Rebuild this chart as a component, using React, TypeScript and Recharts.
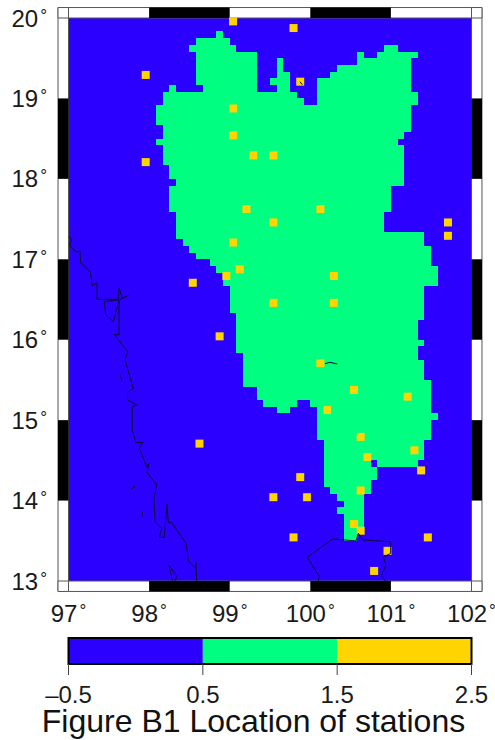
import React from 'react';
import { ScatterChart, Scatter, XAxis, YAxis, ZAxis, ReferenceArea } from 'recharts';

const BLUE = '#2b00ff';
const GREEN = '#00ff80';
const YELLOW = '#ffd400';
const FONT = '"Liberation Sans", Arial, sans-serif';

const lonTicks = [97, 98, 99, 100, 101, 102];
const latTicks = [13, 14, 15, 16, 17, 18, 19, 20];
const blackLonBands = [[98, 99], [100, 101]];
const blackLatBands = [[14, 15], [16, 17], [18, 19]];
const FRAME = 0.13;

const CELL = 1 / 12;
// land mask: [first row, last row, start col, end col, ...], rows count down from 20N, cols from 97E
const landRows: number[][] = [
  [2, 2, 22, 23],
  [3, 3, 19, 24],
  [4, 4, 18, 25, 47, 49],
  [5, 5, 19, 28, 43, 44, 46, 52],
  [6, 6, 19, 28, 31, 32, 43, 51],
  [7, 7, 19, 28, 31, 32, 40, 51],
  [8, 8, 19, 28, 31, 33, 39, 51],
  [9, 9, 19, 28, 30, 33, 37, 51],
  [10, 10, 15, 16, 20, 28, 31, 33, 37, 51],
  [11, 11, 14, 34, 37, 52],
  [12, 12, 14, 35, 37, 52],
  [13, 15, 13, 51],
  [16, 16, 14, 51],
  [17, 17, 14, 50],
  [18, 18, 13, 49],
  [19, 21, 14, 50],
  [22, 23, 15, 50],
  [24, 24, 16, 50],
  [25, 28, 15, 48],
  [29, 31, 16, 47],
  [32, 32, 16, 53],
  [33, 33, 17, 53],
  [34, 34, 18, 54],
  [35, 35, 19, 54],
  [36, 36, 21, 54],
  [37, 37, 22, 55],
  [38, 39, 23, 55],
  [40, 43, 24, 53],
  [44, 44, 25, 53],
  [45, 47, 25, 52],
  [48, 48, 25, 53],
  [49, 49, 25, 52],
  [50, 50, 26, 52],
  [51, 53, 26, 53],
  [54, 54, 26, 54],
  [55, 56, 28, 54],
  [57, 57, 29, 34, 36, 54],
  [58, 58, 31, 33, 37, 54],
  [59, 59, 37, 55],
  [60, 62, 37, 54],
  [63, 65, 38, 53],
  [66, 66, 38, 45, 46, 52],
  [67, 68, 38, 46],
  [69, 69, 38, 45],
  [70, 70, 39, 45],
  [71, 71, 40, 44],
  [72, 72, 41, 44],
  [73, 73, 40, 44],
  [74, 76, 41, 44],
  [77, 77, 41, 43],
];

const stations = [
  [99.042, 19.958], [99.792, 19.875], [97.958, 19.292], [99.875, 19.208], [99.042, 18.875],
  [99.042, 18.542], [99.292, 18.292], [99.542, 18.292], [97.958, 18.208], [99.208, 17.625],
  [100.125, 17.625], [99.542, 17.458], [101.708, 17.458], [101.708, 17.292], [99.042, 17.208],
  [99.125, 16.875], [98.958, 16.792], [100.292, 16.792], [98.542, 16.708], [99.542, 16.458],
  [100.292, 16.458], [98.875, 16.042], [100.125, 15.708], [100.542, 15.375], [101.208, 15.292],
  [100.208, 15.125], [100.625, 14.792], [100.708, 14.542], [101.292, 14.625], [101.375, 14.375],
  [98.625, 14.708], [99.875, 14.292], [99.542, 14.042], [99.958, 14.042], [100.625, 14.125],
  [100.542, 13.708], [100.625, 13.625], [99.792, 13.542], [101.458, 13.542], [100.958, 13.375],
  [100.792, 13.125],
].map(([lon, lat]) => ({ lon, lat }));

const westCoast = [
  [97.006, 17.281], [97.039, 17.24], [97.019, 17.19], [97.01, 17.178], [97.101, 17.087], [97.143, 17.107],
  [97.151, 16.958], [97.271, 16.846], [97.296, 16.668], [97.354, 16.709], [97.354, 16.502], [97.618, 16.502],
  [97.627, 16.639], [97.672, 16.515], [97.742, 16.552], [97.627, 16.494], [97.445, 16.477], [97.461, 16.308],
  [97.556, 16.225], [97.627, 16.482], [97.627, 16.059], [97.565, 16.067], [97.734, 15.852], [97.701, 15.748],
  [97.804, 15.396], [97.73, 15.346], [97.734, 15.251], [97.846, 15.189], [97.792, 15.168], [97.792, 14.878],
  [97.837, 14.72], [97.924, 14.724], [97.879, 14.65], [97.97, 14.422], [97.999, 14.463], [97.974, 14.351],
  [98.094, 14.194], [98.061, 14.028], [98.073, 13.738], [98.156, 13.655], [98.127, 13.543], [98.189, 13.543],
  [98.222, 13.954], [98.239, 13.726], [98.28, 13.726], [98.458, 13.469], [98.491, 13.241], [98.582, 13.158],
  [98.582, 13.23], [98.59, 13.0],
];
const southIsle = [[98.292, 13.0], [98.243, 13.199], [98.346, 13.054], [98.321, 13.0]];
const gulfCoast = [
  [100.1, 13.0], [100.112, 13.054], [99.963, 13.295], [100.277, 13.523], [100.567, 13.498], [100.596, 13.593],
  [100.65, 13.51], [100.997, 13.489], [100.997, 13.344], [100.906, 13.295], [100.939, 13.199], [100.881, 13.067],
  [100.935, 13.0],
];
const islets = [
  [[97.643, 15.562], [97.66, 15.487]],
  [[97.784, 14.14], [97.825, 14.181]],
  [[97.92, 13.862], [97.912, 13.8]],
  [[100.182, 15.702], [100.244, 15.719], [100.335, 15.698]],
  [[99.872, 19.208], [99.901, 19.171]],
];
const coastLines = [westCoast, southIsle, gulfCoast, ...islets].map((line) =>
  line.map(([lon, lat]) => ({ lon, lat })),
);

const legendTicks = [-0.5, 0.5, 1.5, 2.5];
const legendColors = [BLUE, GREEN, YELLOW];

const landAreas: number[][] = [];
landRows.forEach(([first, last, ...cols]) => {
  for (let i = 0; i < cols.length; i += 2) {
    landAreas.push([97 + cols[i] * CELL, 97 + cols[i + 1] * CELL, 20 - (last + 1) * CELL, 20 - first * CELL]);
  }
});

const tickStyle = { fontSize: 24, fill: '#1a1a1a', fontFamily: FONT };
const noShape = () => <g />;

// map labels carry a small raised degree sign
const DegreeTick = ({ x, y, payload, textAnchor, shift }: any) => (
  <text x={x} y={y + shift} textAnchor={textAnchor} {...tickStyle}>
    <tspan>{payload.value}</tspan>
    <tspan dx={2} dy={-6} fontSize={17}>°</tspan>
  </text>
);

export default function App() {
  const frameProps = { ifOverflow: 'visible' as const, stroke: '#555', strokeWidth: 1 };
  return (
    <div style={{ position: 'absolute', left: 0, top: 0, width: 495, height: 740, background: '#fff', overflow: 'hidden' }}>
      <ScatterChart
        width={495}
        height={630}
        margin={{ top: 18, right: 23.5, bottom: 0, left: 0 }}
        style={{ position: 'absolute', left: 0, top: 0 }}
      >
        <XAxis
          type="number"
          dataKey="lon"
          domain={[97, 102]}
          ticks={lonTicks}
          interval={0}
          height={49}
          axisLine={false}
          tickLine={false}
          tick={(p: any) => <DegreeTick {...p} shift={17} />}
          tickMargin={18}
        />
        <YAxis
          type="number"
          dataKey="lat"
          domain={[13, 20]}
          ticks={latTicks}
          interval={0}
          width={68.5}
          axisLine={false}
          tickLine={false}
          tick={(p: any) => <DegreeTick {...p} shift={8.5} />}
          tickMargin={15.5}
        />
        <ZAxis range={[49, 49]} />
        <ReferenceArea {...frameProps} x1={97 - FRAME} x2={102 + FRAME} y1={13 - FRAME} y2={20 + FRAME} fill="#fff" />
        <ReferenceArea {...frameProps} x1={97} x2={102} y1={13} y2={20} fill={BLUE} fillOpacity={1} />
        {[97 - FRAME, 102].map((x) =>
          [13 - FRAME, 20].map((y) => (
            <ReferenceArea key={`${x}-${y}`} {...frameProps} x1={x} x2={x + FRAME} y1={y} y2={y + FRAME} fill="#fff" fillOpacity={1} />
          )),
        )}
        {blackLonBands.map(([a, b]) =>
          [13 - FRAME, 20].map((y) => (
            <ReferenceArea key={`${a}-${y}`} ifOverflow="visible" x1={a} x2={b} y1={y} y2={y + FRAME} fill="#000" fillOpacity={1} />
          )),
        )}
        {blackLatBands.map(([a, b]) =>
          [97 - FRAME, 102].map((x) => (
            <ReferenceArea key={`${a}-${x}`} ifOverflow="visible" x1={x} x2={x + FRAME} y1={a} y2={b} fill="#000" fillOpacity={1} />
          )),
        )}
        {landAreas.map(([x1, x2, y1, y2]) => (
          <ReferenceArea
            key={`${x1}-${y1}`}
            x1={x1}
            x2={x2}
            y1={y1}
            y2={y2}
            fill={GREEN}
            fillOpacity={1}
            shapeRendering="crispEdges"
          />
        ))}
        <Scatter data={stations} shape="square" fill={YELLOW} isAnimationActive={false} />
        {coastLines.map((line, i) => (
          <Scatter
            key={i}
            data={line}
            shape={noShape}
            line={{ stroke: '#0a0a40', strokeWidth: 1 }}
            isAnimationActive={false}
          />
        ))}
      </ScatterChart>

      <ScatterChart
        width={495}
        height={80}
        margin={{ top: 8, right: 23.5, bottom: 0, left: 0 }}
        style={{ position: 'absolute', left: 0, top: 630 }}
      >
        <XAxis
          type="number"
          dataKey="v"
          domain={[-0.5, 2.5]}
          ticks={legendTicks}
          interval={0}
          height={46}
          axisLine={false}
          tick={tickStyle}
          tickLine={{ stroke: '#444' }}
          tickSize={11}
          tickMargin={11}
          tickFormatter={(v) => (v < 0 ? `–${-v}` : `${v}`)}
        />
        <YAxis type="number" dataKey="y" domain={[0, 1]} width={68.5} axisLine={false} tickLine={false} tick={false} />
        {legendColors.map((color, i) => (
          <ReferenceArea key={color} x1={legendTicks[i]} x2={legendTicks[i + 1]} y1={0} y2={1} fill={color} fillOpacity={1} />
        ))}
        <ReferenceArea x1={-0.5} x2={2.5} y1={0} y2={1} fill="none" stroke="#000" strokeWidth={2} />
        <Scatter data={[{ v: 1, y: 0.5 }]} shape={noShape} isAnimationActive={false} />
      </ScatterChart>

      <div
        style={{
          position: 'absolute',
          left: 0,
          top: 709,
          width: 507,
          textAlign: 'center',
          fontFamily: FONT,
          fontSize: 32,
          lineHeight: '24px',
          color: '#111',
          whiteSpace: 'nowrap',
        }}
      >
        Figure B1 Location of stations
      </div>
    </div>
  );
}
